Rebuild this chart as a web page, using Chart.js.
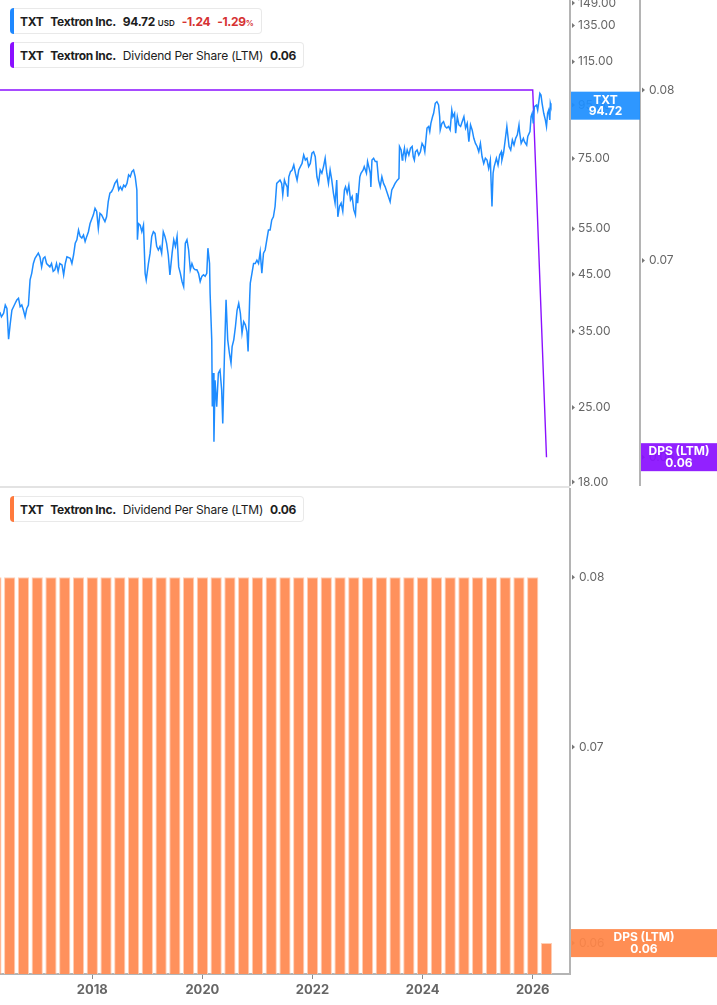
<!DOCTYPE html>
<html>
<head>
<meta charset="utf-8">
<title>TXT Textron Inc.</title>
<script src="https://cdn.jsdelivr.net/npm/chart.js@4.4.1/dist/chart.umd.min.js"></script>
<style>
  html, body { margin: 0; padding: 0; background: #fff; }
  body { width: 717px; height: 1005px; position: relative; overflow: hidden; font-family: Inter, "Noto Sans", sans-serif; }
  #priceChart { position: absolute; left: 0; top: 0; }
  #dpsChart { position: absolute; left: 0; top: 488px; }
  .sep { position: absolute; left: 0; top: 486px; width: 570px; height: 2px; background: #e3e3e3; }
  .legend { position: absolute; left: 10px; height: 26px; display: flex; align-items: center; background: #fff;
            border: 1px solid #e9e9e9; border-left: none; border-radius: 4px; padding: 0 7px 0 10px;
            font-size: 12px; letter-spacing: -0.2px; color: #1d1d1d; box-sizing: border-box; white-space: nowrap; }
  .legend::before { content: ""; position: absolute; left: 0; top: -1px; bottom: -1px; width: 4px;
                    border-radius: 4px 0 0 4px; background: var(--c); }
  .legend span { margin-right: 7px; }
  .legend span:last-child { margin-right: 0; }
  .b { font-weight: 700; letter-spacing: -0.35px; }
  .legend small { font-size: 8px; font-weight: 600; margin-left: 3px; letter-spacing: 0; }
  .red { color: #d63232; }
</style>
</head>
<body>
<canvas id="priceChart" width="717" height="486"></canvas>
<div class="sep"></div>
<canvas id="dpsChart" width="717" height="517"></canvas>

<div class="legend" style="top:8px; --c:#1e88ff;">
  <span class="b">TXT</span><span class="b">Textron Inc.</span><span class="b">94.72<small>USD</small></span><span class="b red">-1.24</span><span class="b red">-1.29<small style="margin-left:0">%</small></span>
</div>
<div class="legend" style="top:42px; --c:#8a10ff;">
  <span class="b">TXT</span><span class="b">Textron Inc.</span><span>Dividend Per Share (LTM)</span><span class="b">0.06</span>
</div>
<div class="legend" style="top:496px; --c:#ff7a3d;">
  <span class="b">TXT</span><span class="b">Textron Inc.</span><span>Dividend Per Share (LTM)</span><span class="b">0.06</span>
</div>

<script>
// price of TXT, decimal years
const priceYears = [
  2016.30, 2016.32, 2016.35, 2016.39, 2016.42, 2016.45, 2016.48, 2016.51, 2016.54, 2016.57,
  2016.60, 2016.63, 2016.66, 2016.69, 2016.72, 2016.75, 2016.78, 2016.81, 2016.84, 2016.87,
  2016.90, 2016.93, 2016.96, 2017.02, 2017.05, 2017.08, 2017.11, 2017.14, 2017.17, 2017.23,
  2017.26, 2017.29, 2017.32, 2017.35, 2017.38, 2017.41, 2017.45, 2017.48, 2017.51, 2017.54,
  2017.60, 2017.63, 2017.66, 2017.69, 2017.72, 2017.75, 2017.78, 2017.81, 2017.84, 2017.87,
  2017.90, 2017.93, 2017.96, 2018.02, 2018.05, 2018.08, 2018.11, 2018.14, 2018.17, 2018.20,
  2018.23, 2018.26, 2018.29, 2018.32, 2018.35, 2018.38, 2018.41, 2018.45, 2018.48, 2018.51,
  2018.54, 2018.57, 2018.60, 2018.63, 2018.66, 2018.69, 2018.72, 2018.75, 2018.78, 2018.81,
  2018.82, 2018.84, 2018.87, 2018.90, 2018.93, 2018.96, 2018.98, 2019.02, 2019.05, 2019.08,
  2019.11, 2019.14, 2019.17, 2019.20, 2019.23, 2019.26, 2019.29, 2019.32, 2019.35, 2019.38,
  2019.41, 2019.45, 2019.48, 2019.51, 2019.54, 2019.57, 2019.60, 2019.63, 2019.66, 2019.69,
  2019.72, 2019.75, 2019.78, 2019.81, 2019.84, 2019.87, 2019.90, 2019.93, 2019.96, 2019.99,
  2020.02, 2020.05, 2020.08, 2020.10, 2020.13, 2020.14, 2020.17, 2020.18, 2020.20, 2020.21,
  2020.23, 2020.26, 2020.29, 2020.32, 2020.35, 2020.37, 2020.40, 2020.43, 2020.46, 2020.49,
  2020.52, 2020.54, 2020.57, 2020.60, 2020.63, 2020.66, 2020.69, 2020.72, 2020.75, 2020.78,
  2020.81, 2020.83, 2020.86, 2020.87, 2020.90, 2020.93, 2020.96, 2020.99, 2021.02, 2021.05,
  2021.08, 2021.11, 2021.14, 2021.17, 2021.20, 2021.23, 2021.26, 2021.29, 2021.32, 2021.35,
  2021.38, 2021.41, 2021.44, 2021.46, 2021.49, 2021.51, 2021.54, 2021.55, 2021.57, 2021.60,
  2021.63, 2021.66, 2021.69, 2021.72, 2021.75, 2021.78, 2021.81, 2021.84, 2021.87, 2021.90,
  2021.93, 2021.96, 2021.99, 2022.02, 2022.05, 2022.08, 2022.11, 2022.14, 2022.17, 2022.20,
  2022.23, 2022.26, 2022.29, 2022.32, 2022.35, 2022.38, 2022.41, 2022.44, 2022.46, 2022.49,
  2022.52, 2022.55, 2022.58, 2022.60, 2022.63, 2022.66, 2022.69, 2022.72, 2022.75, 2022.78,
  2022.80, 2022.82, 2022.86, 2022.88, 2022.92, 2022.94, 2022.98, 2023.00, 2023.03, 2023.05,
  2023.06, 2023.08, 2023.11, 2023.14, 2023.17, 2023.20, 2023.23, 2023.26, 2023.29, 2023.32,
  2023.35, 2023.38, 2023.41, 2023.44, 2023.47, 2023.50, 2023.54, 2023.57, 2023.58, 2023.61,
  2023.63, 2023.64, 2023.67, 2023.69, 2023.72, 2023.75, 2023.78, 2023.81, 2023.83, 2023.85,
  2023.87, 2023.90, 2023.93, 2023.96, 2023.99, 2024.02, 2024.04, 2024.06, 2024.08, 2024.11,
  2024.13, 2024.15, 2024.18, 2024.20, 2024.23, 2024.26, 2024.29, 2024.31, 2024.32, 2024.35,
  2024.38, 2024.41, 2024.44, 2024.47, 2024.50, 2024.53, 2024.55, 2024.58, 2024.60, 2024.63,
  2024.66, 2024.69, 2024.72, 2024.75, 2024.78, 2024.81, 2024.84, 2024.87, 2024.90, 2024.93,
  2024.96, 2024.99, 2025.02, 2025.05, 2025.08, 2025.11, 2025.14, 2025.17, 2025.20, 2025.23,
  2025.26, 2025.28, 2025.30, 2025.34, 2025.37, 2025.40, 2025.43, 2025.44, 2025.47, 2025.50,
  2025.53, 2025.57, 2025.60, 2025.63, 2025.66, 2025.69, 2025.72, 2025.75, 2025.76, 2025.79,
  2025.83, 2025.85, 2025.89, 2025.91, 2025.95, 2025.97, 2025.99, 2026.01, 2026.03, 2026.07,
  2026.09, 2026.13, 2026.15, 2026.17, 2026.20, 2026.23, 2026.25, 2026.27, 2026.29, 2026.31,
  2026.32, 2026.33
];
const priceValues = [
  38.0, 38.1, 37.3, 37.9, 39.3, 38.7, 33.8, 36.2, 38.4, 39.0,
  39.6, 40.2, 40.5, 39.0, 39.3, 38.4, 37.3, 38.7, 39.3, 43.9,
  45.2, 47.2, 48.3, 49.4, 48.6, 46.5, 48.3, 48.6, 47.2, 46.5,
  47.2, 45.6, 45.9, 47.2, 45.6, 47.2, 46.9, 44.9, 47.2, 48.6,
  48.3, 47.2, 49.0, 51.6, 52.4, 54.7, 53.2, 52.8, 53.5, 52.0,
  53.2, 54.3, 56.3, 58.5, 60.2, 59.4, 55.1, 58.9, 58.5, 57.6,
  56.8, 58.0, 62.0, 64.4, 64.8, 65.8, 67.2, 68.2, 65.3, 66.2,
  65.3, 66.7, 66.2, 67.2, 69.8, 69.2, 70.8, 71.3, 69.2, 65.3,
  52.4, 56.3, 55.9, 54.3, 55.9, 45.2, 43.9, 47.2, 49.4, 53.2,
  54.3, 53.9, 50.9, 50.1, 50.9, 49.4, 54.3, 53.2, 51.6, 49.0,
  44.9, 49.4, 52.4, 50.9, 53.2, 46.5, 45.2, 43.6, 42.6, 51.6,
  52.4, 50.1, 45.9, 47.2, 46.2, 45.9, 45.9, 45.2, 43.6, 44.6,
  44.9, 44.6, 45.2, 50.5, 47.2, 41.4, 33.7, 25.1, 29.1, 21.5,
  28.2, 25.1, 29.1, 29.5, 27.0, 23.3, 31.3, 40.2, 33.7, 31.8,
  30.4, 32.7, 33.7, 35.7, 38.4, 39.6, 37.9, 34.7, 36.5, 36.0,
  34.9, 32.0, 40.8, 43.3, 45.2, 47.2, 47.2, 47.9, 47.2, 49.7,
  45.2, 49.4, 50.1, 52.4, 54.7, 54.7, 57.2, 58.0, 60.7, 67.2,
  67.7, 68.2, 67.2, 63.9, 68.2, 67.2, 66.2, 63.4, 69.2, 70.8,
  71.3, 72.9, 70.3, 68.2, 71.3, 72.4, 73.4, 76.2, 74.5, 75.1,
  72.4, 73.4, 76.8, 77.3, 75.6, 69.2, 67.2, 71.3, 70.3, 72.4,
  75.1, 70.3, 67.2, 71.3, 68.2, 64.4, 61.6, 68.2, 58.0, 60.7,
  61.6, 59.4, 65.3, 66.2, 64.4, 66.7, 62.5, 63.4, 59.8, 58.5,
  64.4, 61.6, 69.2, 70.3, 71.3, 72.4, 70.3, 74.0, 71.8, 70.3,
  66.2, 74.5, 75.1, 74.0, 74.0, 68.2, 66.2, 69.2, 67.2, 66.2,
  64.8, 63.4, 62.0, 65.3, 66.2, 67.2, 68.2, 68.7, 79.1, 77.9,
  74.5, 75.6, 78.5, 75.1, 77.9, 76.2, 78.5, 79.1, 75.6, 74.5,
  77.3, 77.9, 76.2, 77.3, 80.2, 79.1, 77.3, 81.4, 85.8, 86.4,
  84.5, 87.6, 90.2, 91.6, 95.7, 96.4, 95.0, 90.2, 85.1, 87.6,
  88.3, 86.4, 85.8, 86.4, 85.1, 92.9, 90.2, 91.6, 83.9, 90.2,
  87.0, 86.4, 88.3, 90.2, 85.8, 87.6, 80.8, 87.0, 85.1, 82.0,
  80.2, 79.1, 77.3, 80.2, 75.6, 73.4, 75.1, 74.5, 71.8, 74.5,
  60.7, 70.3, 72.4, 75.1, 72.9, 76.2, 77.3, 74.5, 76.8, 81.4,
  86.4, 79.1, 77.9, 81.4, 79.6, 82.0, 83.3, 87.0, 84.5, 80.2,
  82.0, 80.8, 79.6, 82.7, 84.5, 90.2, 91.6, 87.6, 94.3, 95.0,
  92.9, 100.0, 99.3, 95.7, 91.6, 88.9, 86.4, 91.6, 92.9, 88.9,
  95.7, 94.72
];

// dividend per share (LTM), quarterly
const dpsQuarters = [
  2016.00, 2016.25, 2016.50, 2016.75, 2017.00, 2017.25, 2017.50, 2017.75,
  2018.00, 2018.25, 2018.50, 2018.75, 2019.00, 2019.25, 2019.50, 2019.75,
  2020.00, 2020.25, 2020.50, 2020.75, 2021.00, 2021.25, 2021.50, 2021.75,
  2022.00, 2022.25, 2022.50, 2022.75, 2023.00, 2023.25, 2023.50, 2023.75,
  2024.00, 2024.25, 2024.50, 2024.75, 2025.00, 2025.25, 2025.50, 2025.75,
  2026.00, 2026.25
];
const dpsValues = [
  0.08, 0.08, 0.08, 0.08, 0.08, 0.08, 0.08, 0.08,
  0.08, 0.08, 0.08, 0.08, 0.08, 0.08, 0.08, 0.08,
  0.08, 0.08, 0.08, 0.08, 0.08, 0.08, 0.08, 0.08,
  0.08, 0.08, 0.08, 0.08, 0.08, 0.08, 0.08, 0.08,
  0.08, 0.08, 0.08, 0.08, 0.08, 0.08, 0.08, 0.08,
  0.08, 0.06
];

const priceTicks = [18, 25, 35, 45, 55, 75, 95, 115, 135, 149];
const dpsTicks = [0.06, 0.07, 0.08];
const yearTicks = [2018, 2020, 2022, 2024, 2026];

const yearMin = 2016.324;
const yearMax = 2026.677;

Chart.defaults.font.family = 'Inter, "Noto Sans", sans-serif';

// small tick arrows on the right axes, and the coloured value tags
const axisMarks = {
  id: 'axisMarks',
  afterDraw(chart, args, opts) {
    const ctx = chart.ctx;
    ctx.save();
    (opts.axes || []).forEach(id => {
      const s = chart.scales[id];
      ctx.fillStyle = '#777';
      s.ticks.forEach(t => {
        const y = s.getPixelForValue(t.value);
        ctx.beginPath();
        ctx.moveTo(s.left + 2, y - 2.5);
        ctx.lineTo(s.left + 5, y);
        ctx.lineTo(s.left + 2, y + 2.5);
        ctx.closePath();
        ctx.fill();
      });
    });
    (opts.tags || []).forEach(tag => {
      const s = chart.scales[tag.axis];
      const y = s.getPixelForValue(tag.value);
      const x0 = s.left + 1, x1 = s.right;
      ctx.globalAlpha = 0.93;
      ctx.fillStyle = tag.color;
      ctx.fillRect(x0, y - 14, x1 - x0, 28);
      ctx.globalAlpha = 1;
      ctx.fillStyle = '#fff';
      ctx.font = 'bold 12px Inter, "Noto Sans", sans-serif';
      ctx.textAlign = 'center';
      ctx.textBaseline = 'middle';
      const cx = (x0 + x1) / 2;
      ctx.fillText(tag.lines[0], cx, y - 5.5);
      ctx.fillText(tag.lines[1], cx, y + 6);
    });
    ctx.restore();
  }
};

// keep the vertical axes from shrinking the plot for their labels
const fitWidth = w => s => { s.width = w; s.paddingTop = 0; s.paddingBottom = 0; };

const tickFont = { family: 'Inter, "Noto Sans", sans-serif', size: 12 };
const lastPrice = priceValues[priceValues.length - 1];
const lastDps = dpsValues[dpsValues.length - 1];

new Chart(document.getElementById('priceChart'), {
  type: 'line',
  data: {
    datasets: [
      {
        label: 'TXT',
        data: priceYears.map((x, i) => ({ x: x, y: priceValues[i] })),
        yAxisID: 'yPrice',
        borderColor: '#1e8cff',
        borderWidth: 1.5,
        pointRadius: 0,
        tension: 0
      },
      {
        label: 'DPS (LTM)',
        data: dpsQuarters.map((x, i) => ({ x: x, y: dpsValues[i] })),
        yAxisID: 'yDps',
        borderColor: '#8a10ff',
        borderWidth: 1.4,
        pointRadius: 0,
        tension: 0
      }
    ]
  },
  options: {
    responsive: false,
    animation: false,
    layout: { padding: 0 },
    plugins: {
      legend: { display: false },
      tooltip: { enabled: false },
      axisMarks: {
        axes: ['yPrice', 'yDps'],
        tags: [
          { axis: 'yPrice', value: lastPrice, color: '#1e8fff', lines: ['TXT', lastPrice.toFixed(2)] },
          { axis: 'yDps', value: lastDps, color: '#8a10ff', lines: ['DPS (LTM)', lastDps.toFixed(2)] }
        ]
      }
    },
    scales: {
      x: { type: 'linear', min: yearMin, max: yearMax, display: false },
      yPrice: {
        type: 'logarithmic',
        position: 'right',
        min: 17.68,
        max: 151,
        afterBuildTicks: s => { s.ticks = priceTicks.map(v => ({ value: v })); },
        afterFit: fitWidth(70),
        grid: { display: false, drawTicks: false },
        border: { display: true, color: '#b4b4b4', width: 2 },
        ticks: { padding: 8, color: '#666', font: tickFont, autoSkip: false, callback: v => Number(v).toFixed(2) }
      },
      yDps: {
        type: 'logarithmic',
        position: 'right',
        min: 0.05866,
        max: 0.08585,
        afterBuildTicks: s => { s.ticks = dpsTicks.map(v => ({ value: v })); },
        afterFit: fitWidth(77),
        grid: { display: false, drawTicks: false },
        border: { display: true, color: '#b4b4b4', width: 2 },
        ticks: { padding: 9, color: '#666', font: tickFont, autoSkip: false, callback: v => Number(v).toFixed(2) }
      }
    }
  },
  plugins: [axisMarks]
});

new Chart(document.getElementById('dpsChart'), {
  type: 'bar',
  data: {
    datasets: [{
      label: 'DPS (LTM)',
      data: dpsQuarters.map((x, i) => ({ x: x, y: dpsValues[i] })),
      backgroundColor: '#ff915c',
      borderColor: '#ffcfb6',
      borderWidth: 1,
      barPercentage: 0.82,
      categoryPercentage: 1
    }]
  },
  options: {
    responsive: false,
    animation: false,
    layout: { padding: 0 },
    plugins: {
      legend: { display: false },
      tooltip: { enabled: false },
      axisMarks: {
        axes: ['y'],
        tags: [
          { axis: 'y', value: lastDps, color: '#ff8547', lines: ['DPS (LTM)', lastDps.toFixed(2)] }
        ]
      }
    },
    scales: {
      x: {
        type: 'linear',
        min: yearMin,
        max: yearMax,
        offset: false,
        afterBuildTicks: s => { s.ticks = yearTicks.map(v => ({ value: v })); },
        afterFit: s => { s.height = 31; s.paddingLeft = 0; s.paddingRight = 0; },
        grid: { display: true, drawOnChartArea: false, drawTicks: true, tickLength: 5, color: '#888', offset: false },
        border: { display: true, color: '#b4b4b4', width: 2 },
        ticks: { padding: 3, color: '#666', font: { family: tickFont.family, size: 13, weight: 'bold' },
                 autoSkip: false, maxRotation: 0, callback: v => String(v) }
      },
      y: {
        type: 'logarithmic',
        position: 'right',
        min: 0.05856,
        max: 0.08581,
        afterBuildTicks: s => { s.ticks = dpsTicks.map(v => ({ value: v })); },
        afterFit: fitWidth(147),
        grid: { display: false, drawTicks: false },
        border: { display: true, color: '#b4b4b4', width: 2 },
        ticks: { padding: 9, color: '#666', font: tickFont, autoSkip: false, callback: v => Number(v).toFixed(2) }
      }
    }
  },
  plugins: [axisMarks]
});
</script>
</body>
</html>
